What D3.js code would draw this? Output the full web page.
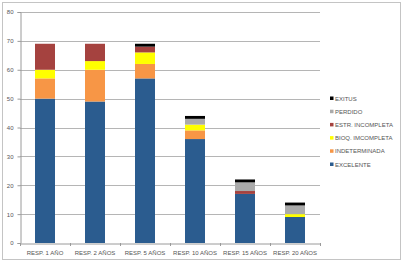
<!DOCTYPE html>
<html><head><meta charset="utf-8">
<script src="https://cdn.jsdelivr.net/npm/d3@7/dist/d3.min.js"></script>
<style>body{margin:0;background:#fff}svg{display:block}</style>
</head><body><div id="c"></div>
<script>
const categories = ["RESP. 1 AÑO","RESP. 2 AÑOS","RESP. 5 AÑOS","RESP. 10 AÑOS","RESP. 15 AÑOS","RESP. 20 AÑOS"];
const seriesNames = ["EXCELENTE","INDETERMINADA","BIOQ. IMCOMPLETA","ESTR. INCOMPLETA","PERDIDO","EXITUS"];
const excelente      = [50, 49, 57, 36, 17, 9];
const indeterminada  = [7, 11, 5, 3, 0, 0];
const bioqIncompleta = [3, 3, 4, 2, 0, 1];
const estrIncompleta = [9, 6, 2, 0, 1, 0];
const perdido        = [0, 0, 0, 2, 3, 3];
const exitus         = [0, 0, 1, 1, 1, 1];
const yTicks = [0,10,20,30,40,50,60,70,80];
const colors = ["#2B5C8F","#F79646","#FFFF00","#A5423F","#ABABAB","#000000"];

const seriesValues = [excelente, indeterminada, bioqIncompleta, estrIncompleta, perdido, exitus];
const rows = categories.map((c,i)=>{const r={cat:c}; seriesNames.forEach((s,j)=>r[s]=seriesValues[j][i]); return r;});
const stacked = d3.stack().keys(seriesNames)(rows);

const W=404,H=263;
const svg=d3.select("#c").append("svg").attr("width",W).attr("height",H);
svg.append("rect").attr("x",2.5).attr("y",2.5).attr("width",398).attr("height",257).attr("fill","#fff").attr("stroke","#C4C4C4");

const x=d3.scaleBand().domain(categories).range([20,320]).paddingInner(0.6).paddingOuter(0.3);
const y=d3.scaleLinear().domain([0,80]).range([243,12]);

// gridlines
svg.append("g").selectAll("line").data(yTicks.filter(t=>t>0)).join("line")
  .attr("x1",20).attr("x2",320).attr("y1",d=>Math.round(y(d))+0.5).attr("y2",d=>Math.round(y(d))+0.5)
  .attr("stroke","#B5B5B5").attr("stroke-width",1);

// bars
svg.append("g").selectAll("g").data(stacked).join("g").attr("fill",(d,i)=>colors[i])
  .selectAll("rect").data(d=>d).join("rect")
  .attr("x",(d,i)=>x(categories[i])).attr("width",x.bandwidth())
  .attr("y",d=>y(d[1])).attr("height",d=>y(d[0])-y(d[1]));

// y axis
const ya=svg.append("g").attr("transform","translate(20.5,0)")
  .call(d3.axisLeft(y).tickValues(yTicks).tickSize(3).tickPadding(4));
ya.select(".domain").attr("stroke","#9A9A9A");
ya.selectAll(".tick line").attr("stroke","#9A9A9A");
ya.selectAll("text").attr("font-family","Liberation Sans, Arial, sans-serif").attr("font-size","6px").attr("fill","#555");

// x axis
const xa=svg.append("g").attr("transform","translate(0,243.5)")
  .call(d3.axisBottom(x).tickSize(0).tickPadding(7));
xa.select(".domain").attr("stroke","#9A9A9A");
xa.selectAll("text").attr("font-family","Liberation Sans, Arial, sans-serif").attr("font-size","6px").attr("fill","#555");
// category separator ticks
const seps=d3.range(categories.length+1).map(i=>20+i*50);
svg.append("g").selectAll("line").data(seps).join("line")
  .attr("x1",d=>d+0.5).attr("x2",d=>d+0.5).attr("y1",243).attr("y2",246).attr("stroke","#9A9A9A");

// legend
const legOrder=seriesNames.map((s,i)=>({s,c:colors[i]})).reverse();
const lg=svg.append("g").selectAll("g").data(legOrder).join("g")
  .attr("transform",(d,i)=>`translate(330,${99+i*13.2})`);
lg.append("rect").attr("x",0).attr("y",-2.5).attr("width",3.5).attr("height",3.5).attr("fill",d=>d.c);
lg.append("text").attr("x",5).attr("y",1.5).text(d=>d.s)
  .attr("font-family","Liberation Sans, Arial, sans-serif").attr("font-size","6px").attr("fill","#555");
</script></body></html>
